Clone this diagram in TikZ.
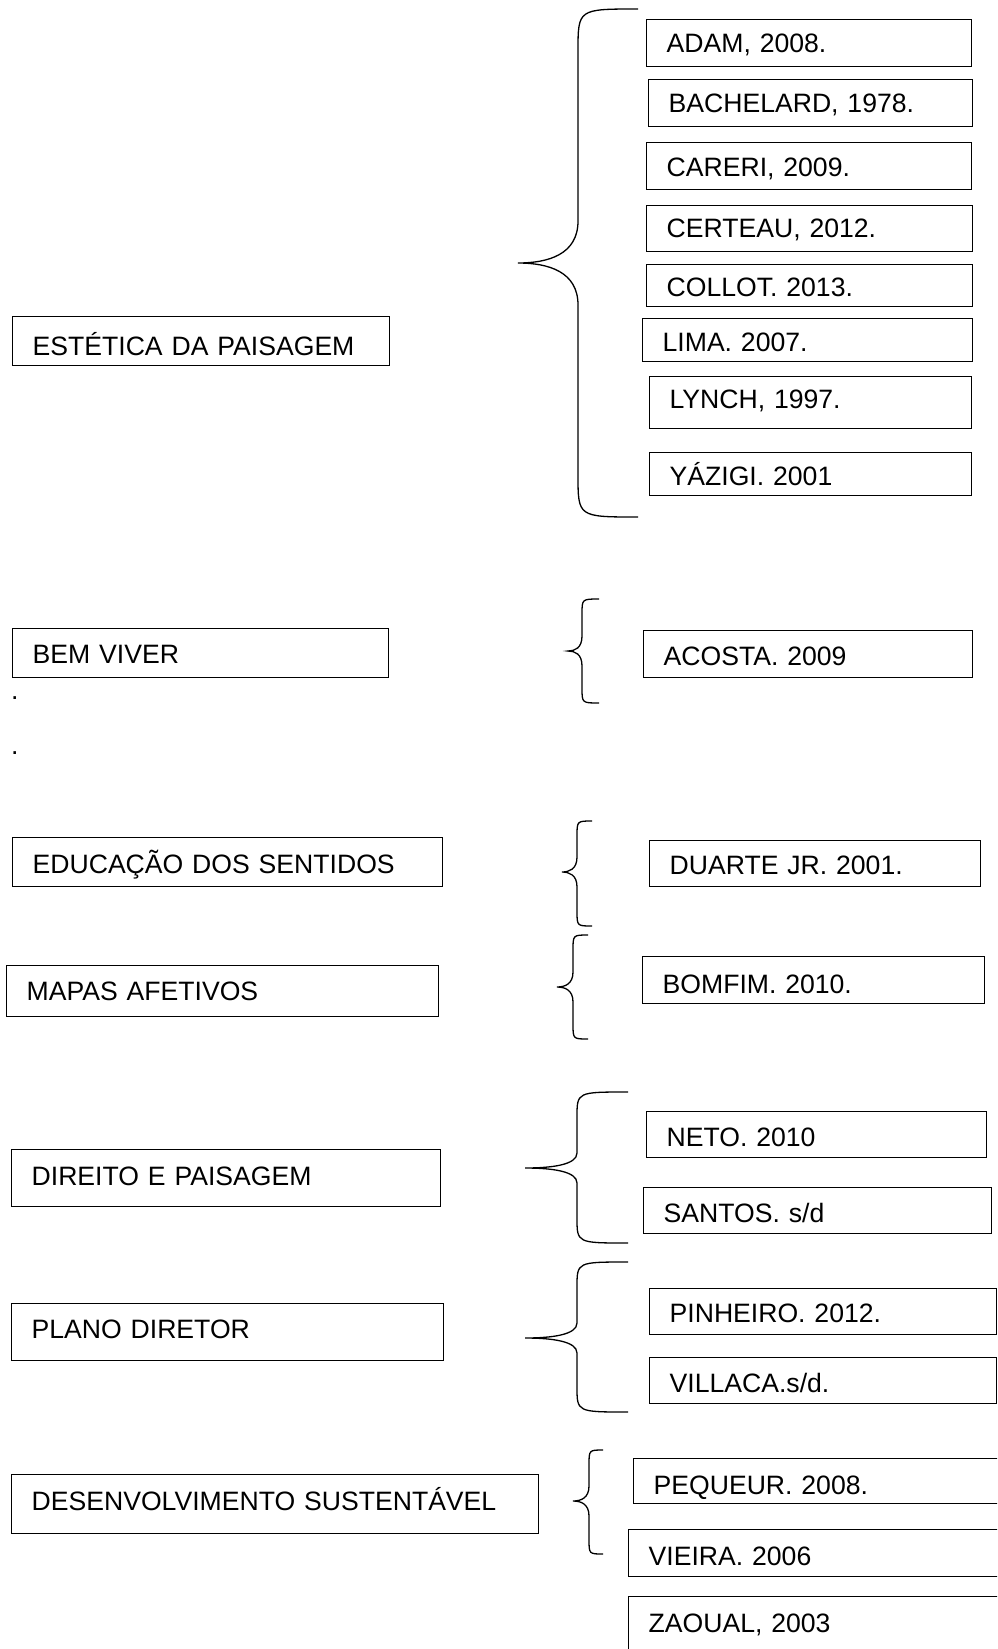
\documentclass[tikz,border=0pt]{standalone}
\usepackage{fontspec}
\setmainfont{Liberation Sans}
\usepackage{tikz}
\def\leftbrace(#1,#2,#3)(#4,#5,#6)(#7,#8){\draw[brace] (#1,#4) .. controls (#2,#4) .. (#2,#4+#7) -- (#2,#5-#8) .. controls (#2,#5-0.2*#8) and ({#2-0.5*(#2-#3)},#5) .. (#3,#5) .. controls ({#2-0.5*(#2-#3)},#5) and (#2,#5+0.2*#8) .. (#2,#5+#8) -- (#2,#6-#7) .. controls (#2,#6) .. (#1,#6);}
\newcommand\refbox[7]{%
  \pgfmathsetmacro\bw{#4-40}\pgfmathsetmacro\bd{#5-#6}%
  \node[refbox, text width=\bw pt, text height=#6pt, text depth=\bd pt] (#1) at (#2,#3) {#7};}

\begin{document}
\begin{tikzpicture}[x=1pt, y=-1pt,
		refbox/.style={draw, line width=1.3pt, anchor=north west, inner xsep=20pt, inner ysep=0pt, align=left, font=\fontsize{26.6}{30}\selectfont},
		brace/.style={line width=1.3pt}]
		%%%%% START %%%%%
		\useasboundingbox (0,0) rectangle (997,1649);
		\clip (0,0) rectangle (997,1649);
		
		\refbox{estetica}{12}{316}{377}{49}{39}{ESTÉTICA DA PAISAGEM}
		\leftbrace(638,578,518)(9,263,517)(42,42)
		\refbox{adam}{646}{19}{325}{47}{33}{ADAM, 2008.}
		\refbox{bachelard}{648}{79}{324}{47}{33}{BACHELARD, 1978.}
		\refbox{careri}{646}{142}{325}{47}{34}{CARERI, 2009.}
		\refbox{certeau}{646}{205}{326}{46}{32}{CERTEAU, 2012.}
		\refbox{collot}{646}{264}{326}{42}{32}{COLLOT. 2013.}
		\refbox{lima}{642}{318}{330}{43}{33}{LIMA. 2007.}
		\refbox{lynch}{649}{376}{322}{52}{32}{LYNCH, 1997.}
		\refbox{yazigi}{649}{452}{322}{43}{33}{YÁZIGI. 2001}
		
		\refbox{bemviver}{12}{628}{376}{49}{35}{BEM VIVER}
		\leftbrace(599,582,568)(599,651,703)(15,15)
		\refbox{acosta}{643}{630}{329}{47}{35}{ACOSTA. 2009}
		\node[anchor=base west, inner sep=0pt, font=\fontsize{26.6}{30}\selectfont] (dotA) at (11,699) {.};
		\node[anchor=base west, inner sep=0pt, font=\fontsize{26.6}{30}\selectfont] (dotB) at (11,754) {.};
		
		\refbox{educacao}{12}{837}{430}{49}{36}{EDUCAÇÃO DOS SENTIDOS}
		\leftbrace(592,577,562)(821,872,926)(15,15)
		\refbox{duarte}{649}{840}{331}{46}{34}{DUARTE JR. 2001.}
		
		\refbox{mapas}{6}{965}{432}{51}{35}{MAPAS AFETIVOS}
		\leftbrace(588,573,557)(935,987,1039)(15,15)
		\refbox{bomfim}{642}{956}{342}{47}{37}{BOMFIM. 2010.}
		
		\refbox{direito}{11}{1149}{429}{57}{36}{DIREITO E PAISAGEM}
		\leftbrace(628,577,525)(1092,1168,1243)(25,15)
		\refbox{neto}{646}{1111}{340}{46}{35}{NETO. 2010}
		\refbox{santos}{643}{1187}{348}{46}{35}{SANTOS. s/d}
		
		\refbox{plano}{11}{1303}{432}{57}{35}{PLANO DIRETOR}
		\leftbrace(628,577,525)(1262,1338,1412)(25,15)
		\refbox{pinheiro}{649}{1288}{347}{46}{34}{PINHEIRO. 2012.}
		\refbox{villaca}{649}{1357}{347}{46}{35}{VILLACA.s/d.}
		
		\refbox{desenv}{11}{1474}{527}{59}{36}{DESENVOLVIMENTO SUSTENTÁVEL}
		\leftbrace(603,589,573)(1450,1501,1554)(15,15)
		\refbox{pequeur}{633}{1458}{400}{45}{36}{PEQUEUR. 2008.}
		\refbox{vieira}{628}{1529}{400}{47}{36}{VIEIRA. 2006}
		\refbox{zaoual}{628}{1596}{400}{80}{36}{ZAOUAL, 2003}
		%%%%% END %%%%%
	\end{tikzpicture}
\end{document}
